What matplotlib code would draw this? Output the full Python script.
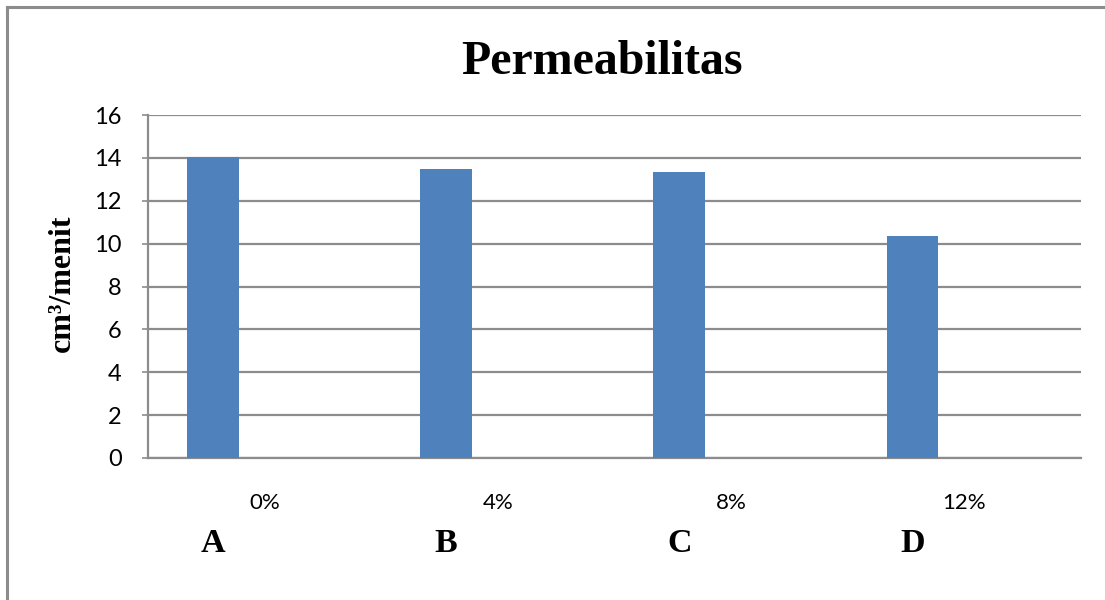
import matplotlib
matplotlib.use("Agg")
import matplotlib.pyplot as plt
import matplotlib.transforms as mtransforms
from matplotlib.lines import Line2D

# ── Data ───────────────────────────────────────────────────────────────────────
concentrations = ["0%", "4%", "8%", "12%"]
sample_codes = ["A", "B", "C", "D"]
permeability = [14.05, 13.48, 13.34, 10.35]   # cm³/menit

Y_TICKS = list(range(0, 17, 2))
BAR_COLOR = "#4F81BD"
GRID_COLOR = "#8C8C8C"

# Excel-style cluster of 3 series with 150% gap -> each bar is 1/4.5 of a slot,
# only the first series holds values
BAR_W = 1 / 4.5
BAR_SHIFT = -BAR_W

# ── Figure ─────────────────────────────────────────────────────────────────────
fig = plt.figure(figsize=(11.05, 6.0), dpi=100)
ax = fig.add_axes([148 / 1105, 1 - 458 / 600, (1081 - 148) / 1105, (458 - 115) / 600])

x = list(range(len(concentrations)))
bar_x = [i + BAR_SHIFT for i in x]
ax.bar(bar_x, permeability, width=BAR_W, color=BAR_COLOR, zorder=3)

ax.set_xlim(-0.5, len(concentrations) - 0.5)
ax.set_ylim(0, 16)
ax.set_yticks(Y_TICKS)
ax.set_yticklabels([str(t) for t in Y_TICKS], fontsize=17, family="Lato")
ax.tick_params(axis="y", length=4, color=GRID_COLOR, pad=15, width=1.2)
ax.set_xticks(x)
ax.set_xticklabels(concentrations, fontsize=16, family="Lato")
ax.tick_params(axis="x", length=0, pad=25)

ax.yaxis.grid(True, color=GRID_COLOR, linewidth=1.6, zorder=0)
ax.set_axisbelow(True)
for side in ("top", "right"):
    ax.spines[side].set_visible(False)
for side in ("left", "bottom"):
    ax.spines[side].set_color(GRID_COLOR)
    ax.spines[side].set_linewidth(1.6)

# sample codes under the concentration labels
trans = mtransforms.blended_transform_factory(ax.transData, fig.transFigure)
for bx, code in zip(bar_x, sample_codes):
    ax.text(bx, 1 - 544 / 600, code, transform=trans, ha="center", va="center",
            fontsize=24.5, fontweight="bold", family="Liberation Serif")

fig.text(602 / 1105, 1 - 74 / 600, "Permeabilitas", ha="center", va="baseline",
         fontsize=34.5, fontweight="bold", family="Liberation Serif")
fig.text(62 / 1105, 1 - 283 / 600, "cm³/menit", ha="center", va="center",
         rotation=90, fontsize=23, fontweight="bold", family="Liberation Serif")

# chart frame (only top and left edges fall inside the canvas)
fig.add_artist(Line2D([7 / 1105, 7 / 1105], [0, 1 - 7 / 600],
                      transform=fig.transFigure, color=GRID_COLOR, linewidth=2.2))
fig.add_artist(Line2D([7 / 1105, 1], [1 - 7 / 600, 1 - 7 / 600],
                      transform=fig.transFigure, color=GRID_COLOR, linewidth=2.2))

fig.savefig("out.png", dpi=100)
